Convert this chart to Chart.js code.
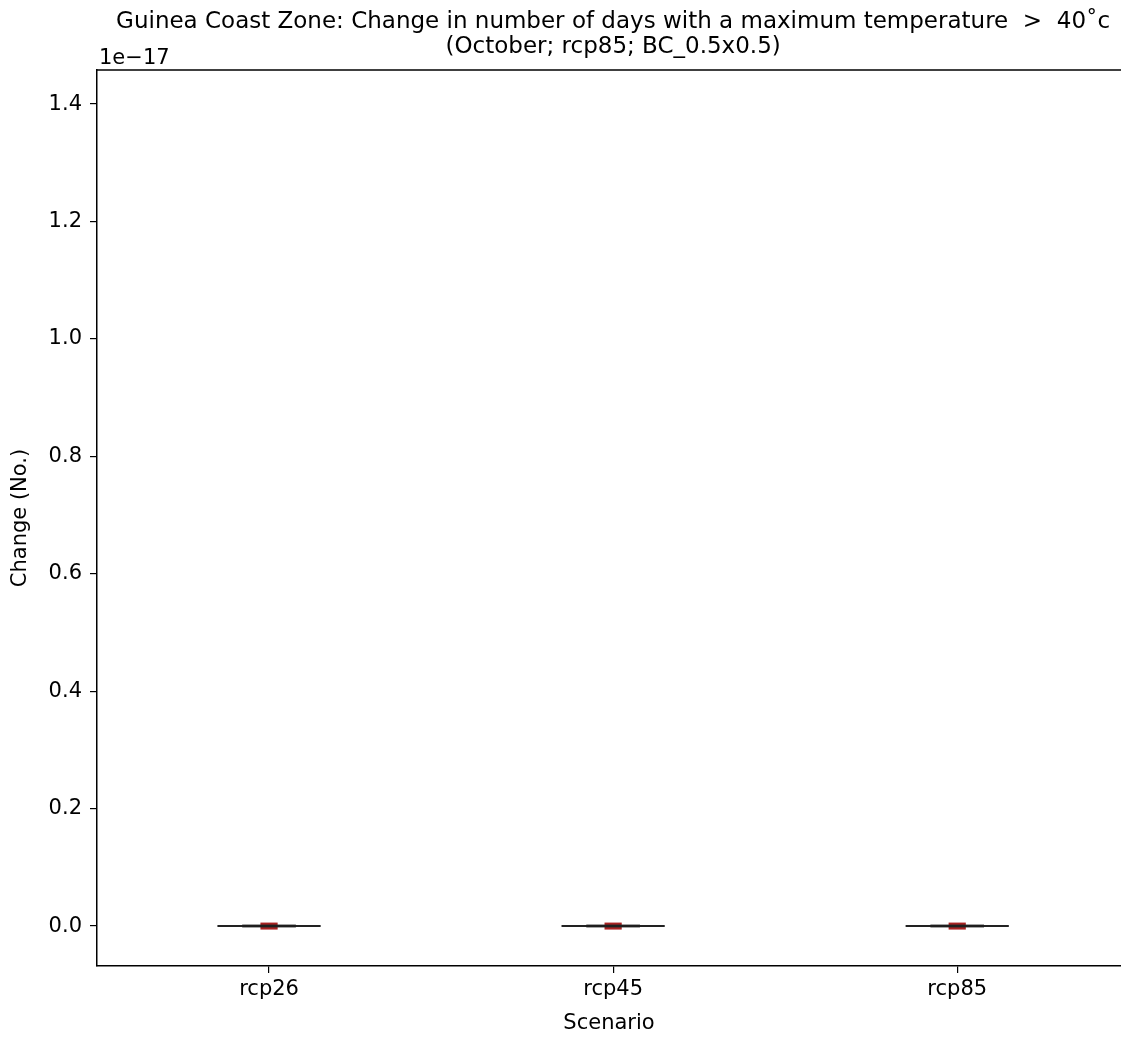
<!DOCTYPE html>
<html>
<head>
<meta charset="utf-8">
<script src="https://cdn.jsdelivr.net/npm/chart.js@4.4.1/dist/chart.umd.min.js"></script>
<style>
  html, body { margin: 0; padding: 0; background: #fff; }
</style>
</head>
<body>
<canvas id="boxChart" width="1121" height="1038"></canvas>
<script>
// box plot stats per scenario (values in units of 1e-17)
const scenarios = ["rcp26", "rcp45", "rcp85"];
const whiskerLow = [0, 0, 0];
const q1 = [0, 0, 0];
const median = [0, 0, 0];
const q3 = [0, 0, 0];
const whiskerHigh = [0, 0, 0];
const yTicks = [0.0, 0.2, 0.4, 0.6, 0.8, 1.0, 1.2, 1.4];

const titleLines = [
  "Guinea Coast Zone: Change in number of days with a maximum temperature  >  40\u02DAc",
  "(October; rcp85; BC_0.5x0.5)"
];
const font = "DejaVu Sans";

// draws the boxes, title and the offset text
const boxPlugin = {
  id: "boxPlugin",
  afterDatasetsDraw(chart) {
    const ctx = chart.ctx;
    const x = chart.scales.x;
    const y = chart.scales.y;
    const area = chart.chartArea;
    ctx.save();
    // top spine
    ctx.strokeStyle = "#000";
    ctx.lineWidth = 1.5;
    ctx.beginPath();
    ctx.moveTo(area.left, area.top);
    ctx.lineTo(area.right, area.top);
    ctx.stroke();

    for (let i = 0; i < scenarios.length; i++) {
      const cx = i + 1;
      const capL = x.getPixelForValue(cx - 0.15);
      const capR = x.getPixelForValue(cx + 0.15);
      const boxL = x.getPixelForValue(cx - 0.078);
      const boxR = x.getPixelForValue(cx + 0.078);
      const medL = x.getPixelForValue(cx - 0.025);
      const medR = x.getPixelForValue(cx + 0.025);
      const yLo = y.getPixelForValue(whiskerLow[i]);
      const yHi = y.getPixelForValue(whiskerHigh[i]);
      const yQ1 = y.getPixelForValue(q1[i]);
      const yQ3 = y.getPixelForValue(q3[i]);
      const yMed = y.getPixelForValue(median[i]);

      // median (drawn under the box lines)
      ctx.fillStyle = "#a82222";
      ctx.fillRect(medL, yMed - 3.5, medR - medL, 7);

      // caps and whiskers
      ctx.strokeStyle = "#222";
      ctx.lineWidth = 2;
      ctx.beginPath();
      ctx.moveTo(capL, yLo); ctx.lineTo(capR, yLo);
      ctx.moveTo(capL, yHi); ctx.lineTo(capR, yHi);
      ctx.moveTo(x.getPixelForValue(cx), yLo); ctx.lineTo(x.getPixelForValue(cx), yQ1);
      ctx.moveTo(x.getPixelForValue(cx), yHi); ctx.lineTo(x.getPixelForValue(cx), yQ3);
      ctx.stroke();

      // box
      ctx.strokeStyle = "rgba(30,30,30,0.8)";
      ctx.lineWidth = 3;
      ctx.strokeRect(boxL, Math.min(yQ1, yQ3), boxR - boxL, Math.abs(yQ1 - yQ3));
    }

    // title, centred over the full axes
    ctx.fillStyle = "#000";
    ctx.font = "23px '" + font + "'";
    ctx.textAlign = "center";
    ctx.textBaseline = "middle";
    const mid = (x.getPixelForValue(0.5) + x.getPixelForValue(3.5)) / 2;
    ctx.fillText(titleLines[0], mid, 22);
    ctx.fillText(titleLines[1], mid, 47);

    // scale offset text
    ctx.font = "21px '" + font + "'";
    ctx.textAlign = "left";
    ctx.textBaseline = "alphabetic";
    ctx.fillText("1e\u221217", area.left + 2, area.top - 6);
    ctx.restore();
  }
};

const ctx = document.querySelector("#boxChart").getContext("2d");
const chart = new Chart(ctx, {
  type: "scatter",
  data: {
    datasets: [{
      data: median.map((m, i) => ({ x: i + 1, y: m })),
      pointRadius: 0,
      showLine: false
    }]
  },
  options: {
    responsive: false,
    animation: false,
    events: [],
    layout: { padding: { top: 70, right: 0, left: 0, bottom: 0 } },
    plugins: { legend: { display: false }, tooltip: { enabled: false } },
    scales: {
      x: {
        type: "linear",
        min: 0.5,
        max: 3.476,
        afterBuildTicks: (scale) => { scale.ticks = scenarios.map((s, i) => ({ value: i + 1 })); },
        afterFit: (scale) => { scale.height = 72; },
        ticks: {
          callback: (v) => scenarios[v - 1],
          color: "#000",
          font: { family: font, size: 21 },
          padding: 4,
          maxRotation: 0
        },
        grid: { drawOnChartArea: false, drawTicks: true, tickLength: 7, color: "#000", lineWidth: 1.2 },
        border: { display: true, color: "#000", width: 1.5 },
        title: {
          display: true,
          text: "Scenario",
          color: "#000",
          font: { family: font, size: 21 },
          padding: { top: 0, bottom: 2 }
        }
      },
      y: {
        min: -0.068,
        max: 1.458,
        afterBuildTicks: (scale) => { scale.ticks = yTicks.map((v) => ({ value: v })); },
        afterFit: (scale) => { scale.width = 97; },
        ticks: {
          callback: (v) => v.toFixed(1),
          color: "#000",
          font: { family: font, size: 21 },
          padding: 8
        },
        grid: { drawOnChartArea: false, drawTicks: true, tickLength: 7, color: "#000", lineWidth: 1.2 },
        border: { display: true, color: "#000", width: 1.5 },
        title: {
          display: true,
          text: "Change (No.)",
          color: "#000",
          font: { family: font, size: 21 },
          padding: { top: 8, bottom: 0 }
        }
      }
    }
  },
  plugins: [boxPlugin]
});
</script>
</body>
</html>
